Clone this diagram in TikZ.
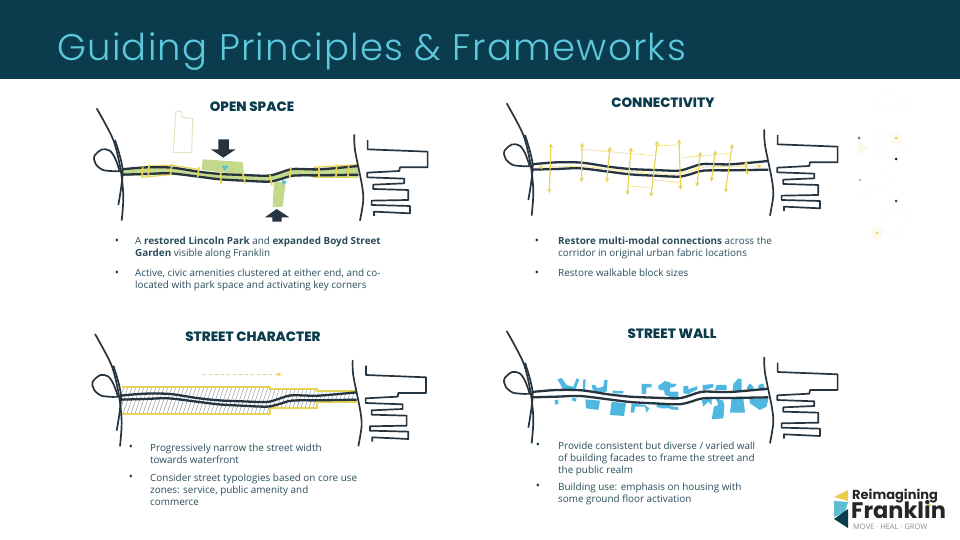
\documentclass[tikz,border=0pt]{standalone}
\usepackage{fontspec}
\setmainfont{Open Sans}
\newfontfamily\titlefont[LetterSpace=3.5]{Poppins Light}
\newfontfamily\headfont{Poppins ExtraBold}
\newfontfamily\logofont{Poppins}
\usetikzlibrary{positioning,arrows.meta}
\definecolor{frankdark}{RGB}{11,60,77}
\definecolor{franktitle}{RGB}{92,200,220}
\definecolor{frankroad}{RGB}{38,52,64}
\definecolor{franktext}{RGB}{42,78,92}
\definecolor{frankgreen}{RGB}{197,217,140}
\definecolor{frankyellow}{RGB}{232,212,84}
\definecolor{frankteal}{RGB}{92,190,208}
\definecolor{frankblue}{RGB}{78,184,224}
\definecolor{frankpale}{RGB}{222,228,190}
\definecolor{frankhatch}{RGB}{150,160,168}
\tikzset{
  panelmap/.style 2 args={shift={(#1,#2)},x=0.3333pt,y=-0.3333pt},
  roadline/.style={frankroad,line width=2.3pt,line join=round},
  mapline/.style={frankroad,line width=1.7pt,line join=round},
  heading/.style={font=\headfont\fontsize{13.5}{15}\selectfont,text=frankdark,inner sep=0pt},
  bullettext/.style={font=\fontsize{9.9}{12}\selectfont,text=franktext,align=left,anchor=north west,inner sep=0pt},
  bulletdot/.style={font=\fontsize{11}{12}\selectfont,text=frankdark,anchor=north,inner sep=0pt},
  twohead/.style={frankyellow,line width=1.2pt,{Stealth[length=4.5pt,width=4.5pt]}-{Stealth[length=4.5pt,width=4.5pt]}},
  crossway/.style={frankyellow,line width=.9pt,densely dotted},
  faintdot/.style={circle,inner sep=0pt,minimum size=#1}
}
\def\streettop{plot[smooth,tension=.5] coordinates {(125,238)(200,232)(275,233)(355,245)(420,252)(490,255)(565,257)(600,248)(640,237)(720,238)(835,228)}}
\def\streetbottom{plot[smooth,tension=.5] coordinates {(125,254)(200,252)(270,250)(355,260)(420,268)(490,272)(565,275)(600,268)(640,257)(720,256)(835,254)}}
\newcommand{\streetlines}[3]{%
  \begin{scope}[shift={(#1,#2)}]
    \draw[roadline,shift={(0,#3)}] \streettop;
    \draw[roadline,shift={(0,-#3)}] \streetbottom;
  \end{scope}}
\newcommand{\basemap}[2]{%
  \begin{scope}[shift={(#1,#2)}]
    \draw[mapline] plot[smooth] coordinates {(50,55)(100,150)(122,240)(130,320)(125,392)};
    \draw[mapline] plot[smooth] coordinates {(105,150)(128,240)(115,345)};
    \draw[mapline] plot[smooth,tension=.8] coordinates {(128,243)(90,243)(60,235)(42,208)(55,185)(78,178)(100,195)(118,240)};
    \draw[mapline] plot[smooth] coordinates {(823,133)(825,180)(845,280)(850,330)(840,392)};
    \draw[mapline] (863,150)--(863,178)--(1043,185)--(1043,232)--(960,232)--(958,243)--(862,248)--(862,262)--(973,266)--(973,280)--(880,284)--(880,297)--(985,300)--(985,330)--(875,332)--(875,345)--(990,348)--(990,370)--(882,365)--(882,378);
  \end{scope}}

\begin{document}
\begin{tikzpicture}[x=1pt,y=-1pt]
  \useasboundingbox (0,0) rectangle (960,540);
  \fill[white] (0,0) rectangle (960,540);
  \fill[frankdark] (0,0) rectangle (960,79);
  \node[anchor=west,inner sep=0pt,text=franktitle,font=\titlefont\fontsize{37}{40}\selectfont] (pagetitle) at (57,52) {Guiding Principles \& Frameworks};

  % faint marks at the right edge
  \fill[frankyellow!10] (896,138) circle (6pt);
  \fill[frankyellow!10] (877,233) circle (6pt);
  \fill[frankyellow!14] (858,141)--(868,148)--(858,155)--cycle;
  \draw[black!3,line width=.3pt] (878,95)--(890,91)--(910,104)--(878,106)--cycle;
  \draw[black!3,line width=.3pt] (880,128)--(880,160)--(910,148)--cycle;
  \draw[black!3,line width=.3pt] (878,170)--(895,180)--(860,195);
  \draw[black!3,line width=.3pt] (892,205)--(912,212)--(892,240)--(878,225)--cycle;
  \node[faintdot=3pt,fill=frankroad!70] (dotone) at (859,138) {};
  \node[faintdot=3pt,fill=frankyellow] (dottwo) at (896,138) {};
  \node[faintdot=3pt,fill=black!85] (dotthree) at (896,159) {};
  \node[faintdot=2.5pt,fill=frankroad!40] (dotfour) at (860,180) {};
  \node[faintdot=3pt,fill=frankroad!90] (dotfive) at (896,201) {};
  \node[faintdot=3pt,fill=frankyellow] (dotsix) at (877,233) {};

  % Open space
  \node[heading] (openhead) at (252,107) {OPEN SPACE};
  \begin{scope}[panelmap={80}{90}]
    \draw[frankpale,line width=.9pt] (288,63)--(305,65)--(307,82)--(338,86)--(335,188)--(280,188)--cycle;
    \fill[frankgreen] (368,208)--(488,216)--(492,255)--(365,240)--cycle;
    \fill[frankgreen] (582,272)--(617,280)--(608,350)--(578,352)--cycle;
    \fill[frankgreen] (125,238)--(200,232)--(275,233)--(355,245)--(490,255)--(565,257)--(640,237)--(720,238)--(835,224)--(835,262)--(720,262)--(640,257)--(565,275)--(490,272)--(355,260)--(270,254)--(125,258)--cycle;
    \draw[frankyellow,line width=1.2pt] (185,262)--(270,254);
    \draw[frankyellow,line width=1.2pt] (200,228)--(275,226)--(355,238);
    \draw[frankyellow,line width=1.2pt] (700,232)--(835,224);
    \draw[frankyellow,line width=1.2pt] (700,262)--(835,262);
    \fill[frankroad] (415,148)--(447,148)--(447,178)--(467,178)--(430,203)--(393,178)--(415,178)--cycle;
    \fill[frankroad] (590,357)--(628,382)--(605,382)--(605,395)--(577,395)--(577,382)--(555,382)--cycle;
    \fill[frankteal] (425,227)--(445,227)--(434,243)--cycle;
    \fill[frankteal] (605,270)--(622,275)--(608,285)--cycle;
    \streetlines{0}{0}{0}
    \foreach \xa/\ya/\xb/\yb in {188/230/186/262,207/225/205/262,276/222/271/255,357/232/353/262,422/248/423/283,488/247/495/280,570/255/576/286,633/232/629/265,717/230/717/264,770/224/768/262,806/228/804/262}{
      \draw[frankyellow,line width=1.7pt] (\xa,\ya)--(\xb,\yb);
    }
    \basemap{0}{0}
  \end{scope}
  \node[bulletdot] (opendotone) at (117,239) {•};
  \node[bullettext] (opentextone) at (135,237) {A \textbf{restored Lincoln Park} and \textbf{expanded Boyd Street}\\\textbf{Garden} visible along Franklin};
  \node[bulletdot] (opendottwo) at (117,271) {•};
  \node[bullettext] (opentexttwo) at (135,269) {Active, civic amenities clustered at either end, and co-\\located with park space and activating key corners};

  % Connectivity
  \node[heading] (connhead) at (663,103) {CONNECTIVITY};
  \begin{scope}[panelmap={490}{90}]
    \streetlines{0}{-15}{0}
    \foreach \xa/\ya/\xb/\yb in {183/160/178/310,276/158/275/277,360/170/350/277,423/172/412/315,502/152/483/320,567/148/572/300,631/185/621/290,677/180/664/275,727/162/706/308,767/212/772/255}{
      \draw[twohead] (\xa,\ya)--(\xb,\yb);
    }
    \draw[twohead,densely dotted,line width=.9pt] plot[smooth,tension=.5] coordinates {(145,232)(280,230)(355,238)(490,250)(565,252)(640,232)(720,230)(815,228)};
    \foreach \xa/\ya/\xb/\yb in {280/178/490/197,505/167/565/165,578/203/720/190,415/288/483/293,490/270/570/277}{
      \draw[crossway] (\xa,\ya)--(\xb,\yb);
    }
    \basemap{0}{-15}
  \end{scope}
  \node[bulletdot] (conndotone) at (537,239) {•};
  \node[bullettext] (conntextone) at (558,237) {\textbf{Restore multi-modal connections} across the\\corridor in original urban fabric locations};
  \node[bulletdot] (conndottwo) at (537,271) {•};
  \node[bullettext] (conntexttwo) at (558,269) {Restore walkable block sizes};

  % Street character
  \node[heading] (charhead) at (253,337) {STREET CHARACTER};
  \begin{scope}[panelmap={80}{320}]
    \begin{scope}
      \clip (125,200)--(570,200)--(570,208)--(712,208)--(712,213)--(830,213)--(830,245)--(712,245)--(712,263)--(570,263)--(570,283)--(125,283)--cycle;
      \foreach \x in {90,102,...,830}{
        \draw[frankhatch,line width=.5pt] (\x,290)--(\x+32,195);
      }
    \end{scope}
    \draw[frankyellow,line width=1.7pt] (125,200)--(570,200)--(570,208)--(712,208)--(712,213)--(830,213);
    \draw[frankyellow,line width=1.7pt] (125,283)--(570,283)--(570,263)--(712,263)--(712,245)--(830,245);
    \draw[frankyellow,line width=1.2pt,dashed,-{Stealth[length=4.5pt,width=4.5pt]}] (368,163)--(605,163);
    \streetlines{-5}{-13}{2}
    \basemap{-5}{-13}
  \end{scope}
  \node[bulletdot] (chardotone) at (131,445) {•};
  \node[bullettext] (chartextone) at (150,444) {Progressively narrow the street width\\towards waterfront};
  \node[bulletdot] (chardottwo) at (131,475) {•};
  \node[bullettext] (chartexttwo) at (150,474) {Consider street typologies based on core use\\zones: service, public amenity and\\commerce};

  % Street wall
  \node[heading] (wallhead) at (672,334) {STREET WALL};
  \begin{scope}[panelmap={490}{320}]
    \begin{scope}[shift={(150,150)}]
      \fill[frankblue] (52,28)--(65,24)--(80,45)--(100,50)--(110,25)--(118,28)--(105,62)--(70,58)--cycle
        (130,28)--(137,28)--(135,62)--(128,62)--cycle
        (155,45)--(165,45)--(172,55)--(190,50)--(193,30)--(203,30)--(200,65)--(160,68)--cycle
        (44,90)--(55,90)--(55,103)--(45,103)--cycle
        (95,84)--(110,85)--(107,95)--(97,92)--cycle
        (136,88)--(180,92)--(175,120)--(138,115)--cycle
        (218,62)--(250,63)--(250,70)--(218,70)--cycle
        (215,95)--(258,100)--(252,138)--(210,135)--cycle
        (275,100)--(315,105)--(328,115)--(320,128)--(315,110)--(285,110)--(283,128)--(272,128)--cycle
        (305,42)--(335,42)--(335,52)--(320,52)--(318,72)--(305,72)--cycle
        (355,45)--(375,40)--(390,35)--(390,80)--(375,75)--(372,60)--(355,58)--cycle
        (350,100)--(390,102)--(390,115)--(350,112)--cycle;
    \end{scope}
    \begin{scope}[shift={(510,150)}]
      \fill[frankblue] (0,45)--(15,32)--(30,40)--(50,42)--(45,50)--(25,55)--(20,62)--(0,60)--cycle
        (25,65)--(55,65)--(55,82)--(28,82)--cycle
        (0,100)--(20,105)--(20,115)--(0,115)--cycle
        (30,108)--(55,112)--(55,120)--(30,118)--cycle
        (70,48)--(85,48)--(85,58)--(112,48)--(112,58)--(85,72)--(70,70)--cycle
        (128,45)--(160,42)--(160,52)--(128,62)--cycle
        (170,45)--(200,45)--(200,60)--(165,60)--cycle
        (220,42)--(235,25)--(245,28)--(245,62)--(218,62)--cycle
        (262,50)--(270,40)--(280,50)--(282,62)--(260,62)--cycle
        (295,45)--(310,40)--(315,62)--(295,60)--cycle
        (125,90)--(155,85)--(155,105)--(145,95)--(130,110)--cycle
        (168,85)--(190,92)--(193,110)--(190,145)--(155,148)--(162,110)--(175,105)--cycle
        (215,85)--(250,85)--(255,128)--(210,128)--cycle
        (268,85)--(325,85)--(320,110)--(300,120)--(270,100)--cycle;
    \end{scope}
    \streetlines{0}{-22}{0}
    \basemap{0}{-22}
  \end{scope}
  \node[bulletdot] (walldotone) at (538,443) {•};
  \node[bullettext] (walltextone) at (558,442) {Provide consistent but diverse / varied wall\\of building facades to frame the street and\\the public realm};
  \node[bulletdot] (walldottwo) at (538,484) {•};
  \node[bullettext] (walltexttwo) at (558,483) {Building use: emphasis on housing with\\some ground floor activation};

  % logo
  \fill[frankyellow!90!orange] (834,497)--(848,490)--(848,501)--cycle;
  \fill[frankteal] (834,501)--(848,502)--(845,512)--(834,517)--cycle;
  \fill[frankdark] (834,519)--(848,509)--(848,528)--cycle;
  \fill[frankyellow] (927,503)--(931,505)--(927,508)--cycle;
  \node[anchor=base west,inner sep=0pt,text=black!85,font=\logofont\bfseries\fontsize{13}{14}\selectfont] (logoone) at (852,499) {Reimagining};
  \node[anchor=base west,inner sep=0pt,text depth=0pt,text=black!85,font=\logofont\bfseries\fontsize{22.5}{24}\selectfont] (logotwo) at (851,518) {Franklin};
  \node[anchor=base west,inner sep=0pt,text=black!45,font=\fontsize{7.5}{8}\selectfont] (logothree) at (853,529) {MOVE · HEAL · GROW};
\end{tikzpicture}
\end{document}
